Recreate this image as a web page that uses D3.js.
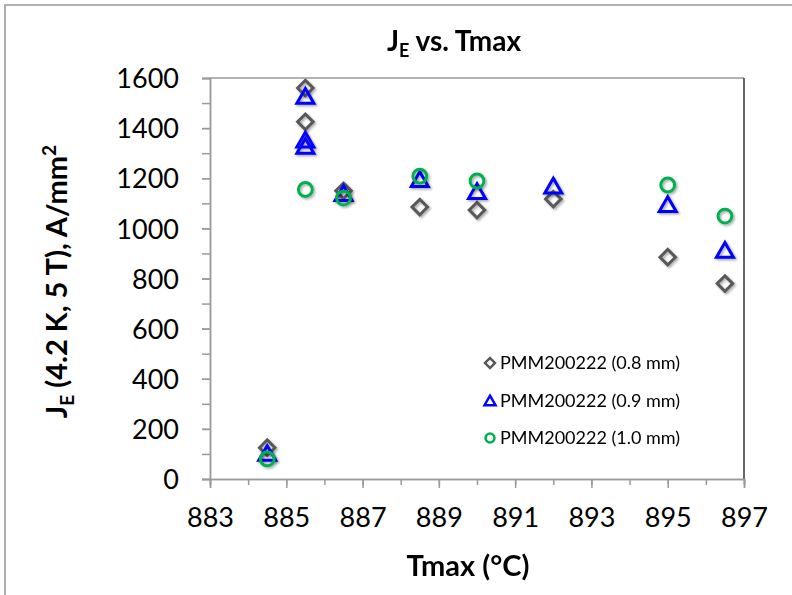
<!DOCTYPE html>
<html>
<head>
<meta charset="utf-8">
<script src="https://cdn.jsdelivr.net/npm/d3@7"></script>
<style>
  body { margin: 0; background: #fff; }
  text { font-family: Lato, "Open Sans", sans-serif; fill: #000; }
</style>
</head>
<body>
<div id="chart"></div>
<script>
// data
var seriesNames = ["PMM200222 (0.8 mm)", "PMM200222 (0.9 mm)", "PMM200222 (1.0 mm)"];

var tmax08 = [884.5, 885.5, 885.5, 886.5, 888.5, 890, 892, 895, 896.5];
var je08 = [125, 1560, 1425, 1150, 1085, 1073, 1117, 885, 780];

var tmax09 = [884.5, 885.5, 885.5, 885.5, 886.5, 888.5, 890, 892, 895, 896.5];
var je09 = [100, 1525, 1350, 1325, 1137, 1193, 1145, 1167, 1093, 910];

var tmax10 = [884.5, 885.5, 886.5, 888.5, 890, 895, 896.5];
var je10 = [80, 1155, 1121, 1208, 1189, 1173, 1049];

var xTickLabels = [883, 885, 887, 889, 891, 893, 895, 897];
var yTickLabels = [0, 200, 400, 600, 800, 1000, 1200, 1400, 1600];

var W = 792, H = 595;
var margin = { top: 78, right: 48, bottom: 116, left: 210 },
  width = W - margin.left - margin.right,
  height = H - margin.top - margin.bottom;

var root = d3.select("#chart")
  .append("svg")
  .attr("width", W)
  .attr("height", H);

var defs = root.append("defs");
var shadow = defs.append("filter")
  .attr("id", "shadow")
  .attr("x", "-50%").attr("y", "-50%")
  .attr("width", "200%").attr("height", "200%");
shadow.append("feDropShadow")
  .attr("dx", 1.5).attr("dy", 1.5)
  .attr("stdDeviation", 1.2)
  .attr("flood-color", "#000")
  .attr("flood-opacity", 0.35);

// outer chart frame
root.append("rect")
  .attr("x", 5).attr("y", 5)
  .attr("width", W).attr("height", H)
  .attr("fill", "none")
  .attr("stroke", "#b0b0b0")
  .attr("stroke-width", 2);

var svg = root.append("g")
  .attr("transform", "translate(" + margin.left + "," + margin.top + ")");

var x = d3.scaleLinear().domain([883, 897]).range([0, width]);
var y = d3.scaleLinear().domain([0, 1600]).range([height, 0]);

// plot area border (top + right)
svg.append("line")
  .attr("x1", 0).attr("x2", width).attr("y1", 0).attr("y2", 0)
  .attr("stroke", "#9a9a9a").attr("stroke-width", 1.5);
svg.append("line")
  .attr("x1", width).attr("x2", width).attr("y1", 0).attr("y2", height)
  .attr("stroke", "#333").attr("stroke-width", 1.5);

// x axis: minor ticks every 1, labels every 2
var xMinor = svg.append("g")
  .attr("transform", "translate(0," + height + ")")
  .call(d3.axisBottom(x).tickValues(d3.range(883, 898, 1)).tickSize(6).tickFormat(""));
var xAxis = svg.append("g")
  .attr("transform", "translate(0," + height + ")")
  .call(d3.axisBottom(x).tickValues(xTickLabels).tickSize(9).tickPadding(20).tickFormat(d3.format("d")));

// y axis: ticks every 100, labels every 200
var yMinor = svg.append("g")
  .call(d3.axisLeft(y).tickValues(d3.range(0, 1700, 100)).tickSize(8).tickFormat(""));
var yAxis = svg.append("g")
  .call(d3.axisLeft(y).tickValues(yTickLabels).tickSize(8).tickPadding(23).tickFormat(d3.format("d")));

svg.selectAll(".domain").attr("stroke", "#9a9a9a").attr("stroke-width", 1.5);
svg.selectAll(".tick line").attr("stroke", "#9a9a9a").attr("stroke-width", 1.5);
svg.selectAll(".tick text").style("font-size", "27px").attr("fill", "#000");
yAxis.selectAll(".tick text").attr("dy", "0.36em");

// series
var series = [
  { name: seriesNames[0], xs: tmax08, ys: je08, shape: "diamond", color: "#595959" },
  { name: seriesNames[1], xs: tmax09, ys: je09, shape: "triangle", color: "#0000ff" },
  { name: seriesNames[2], xs: tmax10, ys: je10, shape: "circle", color: "#00b050" }
];

function markerPath(shape, scale) {
  if (shape === "diamond") return d3.symbol().type(d3.symbolSquare).size(120 * scale)();
  if (shape === "triangle") return d3.symbol().type(d3.symbolTriangle).size(125 * scale)();
  return d3.symbol().type(d3.symbolCircle).size(150 * scale)();
}

series.forEach(function (s) {
  var pts = s.xs.map(function (v, i) { return { t: v, j: s.ys[i] }; });
  svg.append("g")
    .attr("filter", "url(#shadow)")
    .selectAll("path")
    .data(pts)
    .enter()
    .append("path")
    .attr("d", markerPath(s.shape, 1))
    .attr("transform", function (d) {
      var tr = "translate(" + x(d.t) + "," + y(d.j) + ")";
      if (s.shape === "diamond") tr += " rotate(45)";
      if (s.shape === "triangle") tr += " translate(0,1.5)";
      return tr;
    })
    .attr("fill", "none")
    .attr("stroke", s.color)
    .attr("stroke-width", 3);
});

// legend
var legend = svg.append("g").attr("transform", "translate(280,285)");
series.forEach(function (s, i) {
  var row = legend.append("g").attr("transform", "translate(0," + [0, 38, 75][i] + ")");
  row.append("path")
    .attr("d", markerPath(s.shape, 0.42))
    .attr("transform", s.shape === "diamond" ? "rotate(45)" : (s.shape === "triangle" ? "translate(0,1)" : null))
    .attr("fill", "none")
    .attr("stroke", s.color)
    .attr("stroke-width", 2.5);
  row.append("text")
    .attr("x", 10)
    .attr("y", 0)
    .attr("dy", "0.36em")
    .style("font-size", "18px")
    .text(s.name);
});

// title
var title = root.append("text")
  .attr("x", 454)
  .attr("y", 51)
  .attr("text-anchor", "middle")
  .style("font-size", "28px")
  .style("font-weight", "bold");
title.append("tspan").text("J");
title.append("tspan").attr("dy", 6).style("font-size", "18px").text("E");
title.append("tspan").attr("dy", -6).text(" vs. Tmax");

// x axis title
root.append("text")
  .attr("x", 468)
  .attr("y", 576)
  .attr("text-anchor", "middle")
  .style("font-size", "29px")
  .style("font-weight", "bold")
  .text("Tmax (°C)");

// y axis title
var yTitle = root.append("text")
  .attr("transform", "translate(67," + (margin.top + height / 2 + 3) + ") rotate(-90)")
  .attr("text-anchor", "middle")
  .style("font-size", "29px")
  .style("font-weight", "bold");
yTitle.append("tspan").text("J");
yTitle.append("tspan").attr("dy", 7).style("font-size", "19px").text("E");
yTitle.append("tspan").attr("dy", -7).text(" (4.2 K, 5 T), A/mm");
yTitle.append("tspan").attr("dy", -11).style("font-size", "19px").text("2");
</script>
</body>
</html>
